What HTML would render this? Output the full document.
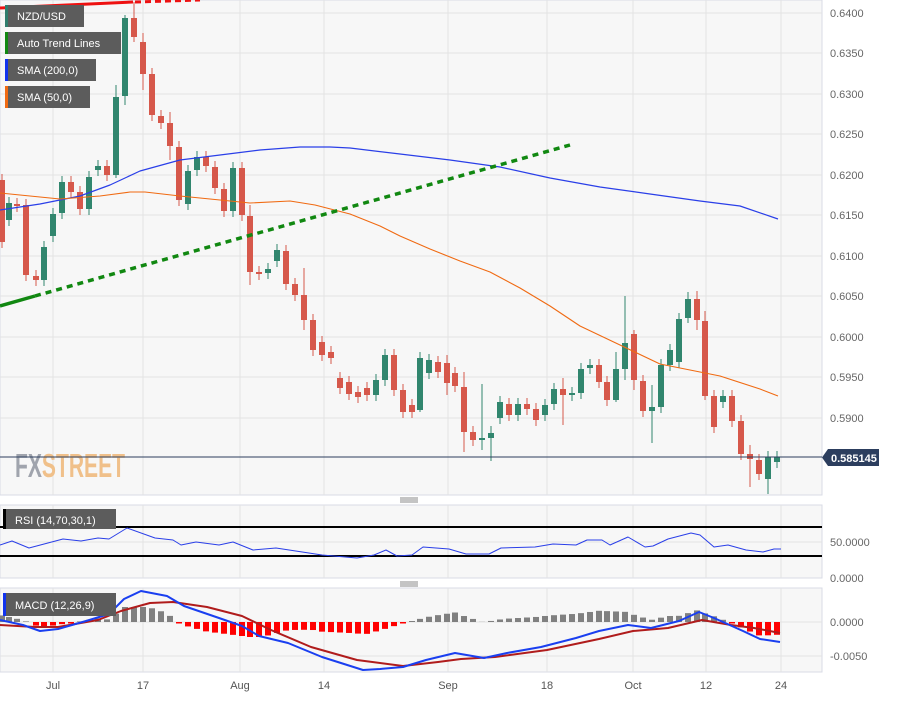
<!DOCTYPE html>
<html><head><meta charset="utf-8"><style>
body{margin:0;background:#fff;width:898px;height:697px;overflow:hidden;font-family:"Liberation Sans",sans-serif}
svg text{font-family:"Liberation Sans",sans-serif}
</style></head><body>
<svg id="s" width="898" height="697" xmlns="http://www.w3.org/2000/svg"></svg>
<script>
const S=document.getElementById('s');let h='';
function R(x,y,w,hh,f,extra){h+=`<rect x="${x}" y="${y}" width="${w}" height="${hh}" fill="${f}" ${extra||''}/>`;}
function L(x1,y1,x2,y2,c,w,extra){h+=`<line x1="${x1}" y1="${y1}" x2="${x2}" y2="${y2}" stroke="${c}" stroke-width="${w}" ${extra||''}/>`;}
function T(x,y,t,s,c,extra){h+=`<text x="${x}" y="${y}" font-size="${s}" fill="${c}" ${extra||''}>${t}</text>`;}
function P(pts,c,w,extra){h+=`<polyline points="${pts.map(p=>p.join(',')).join(' ')}" fill="none" stroke="${c}" stroke-width="${w}" stroke-linejoin="round" ${extra||''}/>`;}
R(0,0,822,495,'#f7f7f7','stroke="#d8dbe6"');
R(0,505,822,73,'#f7f7f7','stroke="#d8dbe6"');
R(0,588,822,84,'#f7f7f7','stroke="#d8dbe6"');
const vx=[53,143,240,324,448,547,633,706,781];
vx.forEach(x=>{L(x,0,x,495,'#e3e3e3',1);L(x,505,x,578,'#e3e3e3',1);L(x,588,x,672,'#e3e3e3',1);});
const py=[['0.6400',13],['0.6350',53],['0.6300',94],['0.6250',134],['0.6200',175],['0.6150',215],['0.6100',256],['0.6050',296],['0.6000',337],['0.5950',377],['0.5900',418]];
py.forEach(([t,y])=>{L(0,y,822,y,'#e3e3e3',1);T(830,y+4,t,11,'#666');});
L(0,542,822,542,'#e3e3e3',1);L(0,622,822,622,'#e3e3e3',1);L(0,656,822,656,'#e3e3e3',1);
T(830,546,'50.0000',11,'#666');T(830,582,'0.0000',11,'#666');T(830,626,'0.0000',11,'#666');T(830,660,'-0.0050',11,'#666');
const dl=[['Jul',53],['17',143],['Aug',240],['14',324],['Sep',448],['18',547],['Oct',633],['12',706],['24',781]];
dl.forEach(([t,x])=>T(x,689,t,11,'#555','text-anchor="middle"'));
[[409,498],[409,582]].forEach(([x,y])=>{L(x-9,y,x+9,y,'#888',1);L(x-9,y+2,x+9,y+2,'#888',1);L(x-9,y+4,x+9,y+4,'#888',1);});
h+=`<text x="15" y="477" font-size="33" font-weight="bold" textLength="110" lengthAdjust="spacingAndGlyphs"><tspan fill="#a0a4ad">FX</tspan><tspan fill="#f0c08a">STREET</tspan></text>`;
const C=[[2,180,242,0],[9,203,220,1],[17,204,206,0],[26,205,275,0],[36,276,280,0],[44,247,280,1],[53,214,236,1],[62,182,213,1],[71,182,192,0],[80,192,209,0],[89,177,209,1],[98,166,170,1],[107,166,175,0],[116,97,175,1],[125,18,96,1],[134,18,37,0],[143,42,74,0],[152,74,115,0],[161,116,123,0],[170,123,146,0],[179,147,200,0],[188,171,204,1],[197,157,170,1],[206,157,166,0],[215,167,188,0],[224,189,211,0],[233,168,211,1],[242,168,215,0],[250,216,272,0],[259,272,274,0],[268,269,273,1],[277,250,261,1],[286,251,284,0],[295,284,295,0],[304,295,320,0],[313,320,350,0],[322,342,355,0],[331,352,358,0],[340,378,388,0],[349,382,394,0],[358,392,397,0],[367,388,395,0],[376,380,395,1],[385,355,380,1],[394,355,390,0],[403,390,412,0],[412,405,412,0],[420,358,410,1],[429,360,373,1],[438,362,372,0],[447,363,383,0],[455,373,386,0],[464,387,432,0],[473,432,440,0],[482,438,440,1],[491,433,438,1],[500,402,418,1],[509,404,415,0],[518,404,415,1],[527,404,409,0],[536,409,420,0],[545,405,415,1],[554,389,404,1],[563,389,395,0],[572,393,395,1],[581,369,393,1],[590,365,368,1],[599,365,382,0],[607,382,400,0],[616,369,400,1],[625,343,369,1],[634,334,380,0],[643,381,411,0],[652,407,411,1],[661,365,407,1],[670,350,365,1],[679,319,362,1],[688,299,318,1],[697,299,320,0],[705,321,396,0],[714,396,427,0],[723,396,402,1],[732,396,421,0],[741,421,454,0],[750,454,459,0],[759,460,474,0],[768,457,479,1],[777,457,462,1]];
const W={125:[15,105],134:[2,42],464:[372,452],491:[426,461],625:[296,380],634:[330,390],652:[385,443],688:[292,323],697:[291,330],750:[445,487],768:[451,494],116:[85,178],143:[33,90],170:[112,160],250:[205,285],304:[268,330],420:[352,412],447:[355,395],482:[384,450],563:[378,425],616:[352,402],705:[311,400]};
const cols={1:'#31866e',0:'#d6584b'};
C.forEach(([x,t,b,g])=>{let w=W[x]||[t-6,b+6];L(x,w[0],x,w[1],cols[g],1);R(x-3,t,6,Math.max(1.5,b-t),cols[g]);});
P([[0,210],[40,204],[80,196],[110,185],[140,171],[180,160],[220,155],[260,150],[300,147],[330,147],[350,148],[400,154],[450,160],[500,167],[550,178],[600,187],[650,194],[700,201],[740,206],[778,219]],'#2a3fe8',1.2);
P([[0,193],[30,196],[60,199],[100,196],[130,192],[145,192],[180,196],[220,200],[250,203],[290,201],[315,205],[350,214],[380,226],[400,236],[430,249],[460,261],[490,272],[520,288],[550,306],[580,326],[620,345],[660,364],[700,372],[720,376],[760,389],[778,396]],'#f06a12',1.1);
L(0,8,133,2,'#ee1111',3);L(135,2,200,0,'#ee1111',3,'stroke-dasharray="6,4"');
L(0,306,35,296,'#118811',3.5);L(35,296,570,145,'#118811',3.5,'stroke-dasharray="6,5"');
L(0,457,822,457,'#2c3e5e',1);
h+=`<polygon points="822,457.5 828,449 879,449 879,466 828,466" fill="#2c3e5e"/>`;
T(831,462,'0.585145',11,'#fff','font-weight="bold"');
[['NZD/USD',5,79,'#2f7d6d',5],['Auto Trend Lines',5,116,'#118811',32],['SMA (200,0)',5,91,'#1133ee',59],['SMA (50,0)',5,85,'#f06a12',86]].forEach(([t,x,w,c,y])=>{R(x,y,w,22,'#5c5c5c');R(x,y,3,22,c);T(x+12,y+15,t,11,'#fff');});
L(0,527,822,527,'#000',2);L(0,556,822,556,'#000',2);
P([[0,545],[12,541],[29,548],[63,539],[81,541],[98,538],[109,539],[127,528],[155,538],[173,540],[181,545],[196,542],[219,545],[233,542],[253,550],[276,548],[322,555],[357,558],[374,555],[386,550],[397,556],[412,555],[423,547],[449,549],[466,554],[489,554],[501,548],[535,547],[553,544],[576,545],[587,540],[602,540],[610,545],[628,537],[645,547],[653,546],[668,539],[691,533],[700,535],[714,547],[728,545],[746,550],[763,552],[774,549],[781,549]],'#2a3fe8',1);
R(3,509,113,20,'#5c5c5c');R(3,509,3,20,'#000');T(15,524,'RSI (14,70,30,1)',11,'#fff');
const M=[[0,620],[23,625],[40,631],[58,629],[86,621],[109,614],[124,599],[141,591],[167,596],[184,606],[219,618],[242,626],[259,636],[288,643],[322,657],[363,670],[380,669],[403,667],[426,660],[455,653],[484,658],[507,653],[541,647],[576,638],[599,631],[628,625],[651,628],[679,621],[699,612],[714,618],[743,631],[760,639],[780,642]];
const SG=[[0,625],[35,627],[58,627],[98,620],[121,611],[150,603],[173,602],[207,607],[242,616],[271,630],[311,647],[357,660],[403,666],[438,662],[461,659],[495,657],[547,650],[599,639],[633,631],[668,628],[702,620],[731,625],[754,628],[780,633]];
function it(a,x){for(let i=1;i<a.length;i++){if(x<=a[i][0]){let p=a[i-1],q=a[i];return p[1]+(q[1]-p[1])*(x-p[0])/(q[0]-p[0]);}}return a[a.length-1][1];}
C.forEach(([x])=>{let d=it(SG,x)-it(M,x);let hgt=Math.min(Math.abs(d)*1.4,15);if(d>0)R(x-3,622-hgt,6,hgt,'#808080');else R(x-3,622,6,Math.max(hgt,1.5),'#ff0000');});
P(SG,'#b01c1c',2);P(M,'#1a3ff0',2);
R(3,593,113,23,'#5c5c5c');R(3,593,3,23,'#1133ee');T(15,609,'MACD (12,26,9)',11,'#fff');
S.innerHTML=h;
</script>
</body></html>
